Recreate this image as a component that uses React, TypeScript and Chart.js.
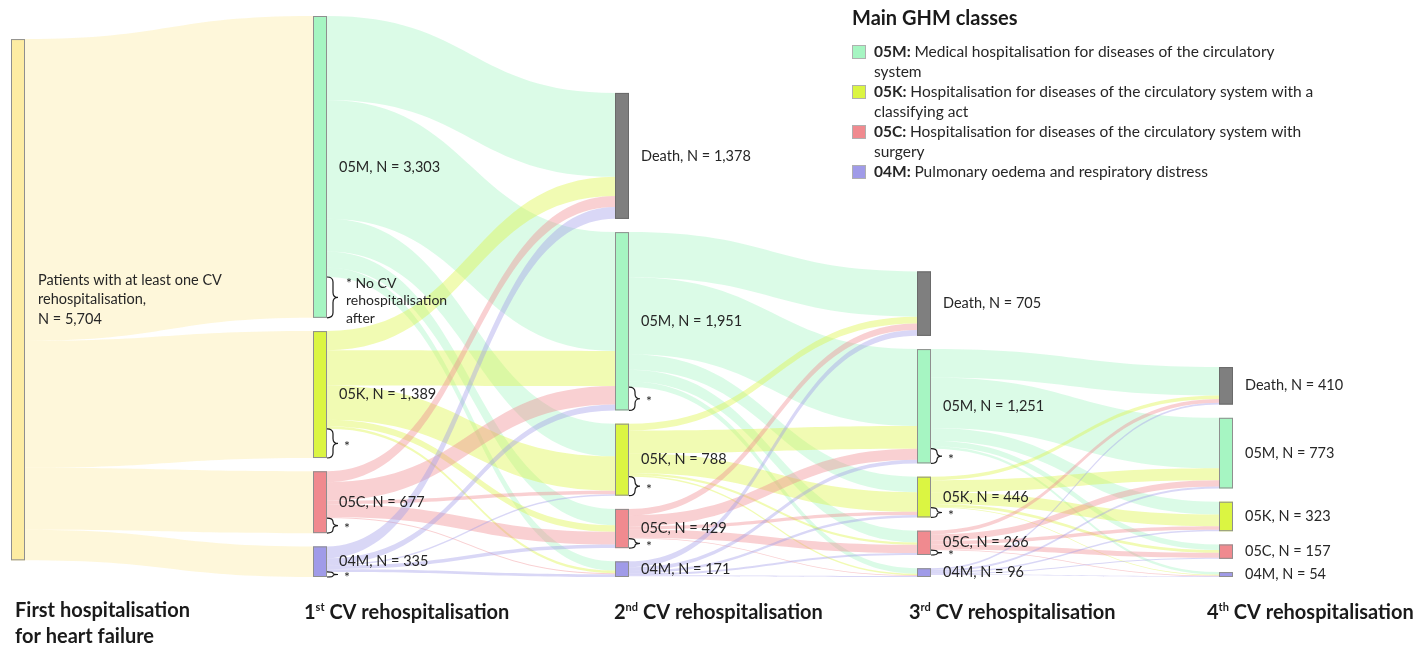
import React, { useEffect, useRef } from 'react';
import { Chart, registerables } from 'chart.js';
Chart.register(...registerables);

// ---------- DATA ----------
const stageCodes = ['05M', '05K', '05C', '04M'];
const col0Values = [5704];
const col1Values = [3303, 1389, 677, 335]; // 05M, 05K, 05C, 04M
const col2Values = [1378, 1951, 788, 429, 171]; // Death, 05M, 05K, 05C, 04M
const col3Values = [705, 1251, 446, 266, 96];
const col4Values = [410, 773, 323, 157, 54];

const col0Keys = ['Start'];
const col1Keys = ['05M', '05K', '05C', '04M'];
const laterKeys = ['Death', '05M', '05K', '05C', '04M'];

// flows[source][target]
const flows0to1 = [[3303, 1389, 677, 335]];
const flows1to2 = [
  [918, 1300, 358, 180, 100],
  [210, 385, 375, 70, 29],
  [120, 200, 40, 140, 12],
  [130, 66, 15, 39, 30],
];
const flows2to3 = [
  [0, 0, 0, 0, 0],
  [495, 841, 170, 130, 60],
  [75, 250, 215, 25, 15],
  [70, 120, 35, 90, 10],
  [65, 40, 26, 21, 11],
];
const flows3to4 = [
  [0, 0, 0, 0, 0],
  [310, 553, 140, 60, 27],
  [40, 130, 128, 30, 10],
  [40, 70, 40, 55, 9],
  [20, 20, 15, 12, 8],
];

const startLabel = ['Patients with at least one CV', 'rehospitalisation,', 'N = 5,704'];
const titleNums = ['1', '2', '3', '4'];
const titleSups = ['st', 'nd', 'rd', 'th'];
const titleRest = ' CV rehospitalisation';
const firstTitle = ['First hospitalisation', 'for heart failure'];
const legendTitle = 'Main GHM classes';
const legendCodes = ['05M:', '05K:', '05C:', '04M:'];
const legendTexts = [
  ['Medical hospitalisation for diseases of the circulatory', 'system'],
  ['Hospitalisation for diseases of the circulatory system with a', 'classifying act'],
  ['Hospitalisation for diseases of the circulatory system with', 'surgery'],
  ['Pulmonary oedema and respiratory distress'],
];
const noRehospNote = ['* No CV', 'rehospitalisation', 'after'];

// ---------- STYLE ----------
const COLORS: Record<string, [number, number, number]> = {
  Start: [253, 236, 163],
  '05M': [166, 245, 194],
  '05K': [219, 245, 66],
  '05C': [240, 138, 143],
  '04M': [160, 155, 232],
  Death: [127, 127, 127],
};
const FONT = 'Lato, "Open Sans", sans-serif';
const GAP = 145;
const NODE_W = 14;

const columns = [col0Values, col1Values, col2Values, col3Values, col4Values];
const columnKeys = [col0Keys, col1Keys, laterKeys, laterKeys, laterKeys];
const flowSteps = [flows0to1, flows1to2, flows2to3, flows3to4];
const YMAX = col1Values.reduce((a, b) => a + b, 0) + GAP * (col1Values.length - 1);

const rgba = (c: [number, number, number], a: number) => `rgba(${c[0]},${c[1]},${c[2]},${a})`;
const fmt = (n: number) => n.toLocaleString('en-US');

function layoutNodes() {
  return columns.map((vals, ci) => {
    const total = vals.reduce((a, b) => a + b, 0) + GAP * (vals.length - 1);
    const bottom = ci === 0 ? (YMAX - total) / 2 - 35 : 0;
    let top = bottom + total;
    return vals.map((v) => {
      const n = { top, bottom: top - v, value: v };
      top -= v + GAP;
      return n;
    });
  });
}

const sankeyPlugin = {
  id: 'sankeyDraw',
  afterDraw(chart: any) {
    const ctx: CanvasRenderingContext2D = chart.ctx;
    const xs = chart.scales.x;
    const ys = chart.scales.y;
    const nodes = layoutNodes();
    const X = (ci: number) => xs.getPixelForValue(ci);
    const Y = (v: number) => ys.getPixelForValue(v);
    ctx.save();

    // flows
    const remainders: number[][] = columns.map((vals) => vals.map(() => 0));
    flowSteps.forEach((mat, s) => {
      const src = nodes[s];
      const tgt = nodes[s + 1];
      const inOff = tgt.map((n) => n.top);
      const x0 = X(s) + NODE_W;
      const x1 = X(s + 1);
      const xm = (x0 + x1) / 2;
      mat.forEach((row, i) => {
        let outOff = src[i].top;
        row.forEach((v, j) => {
          if (v <= 0) return;
          const sy0 = Y(outOff), sy1 = Y(outOff - v);
          const ty0 = Y(inOff[j]), ty1 = Y(inOff[j] - v);
          outOff -= v;
          inOff[j] -= v;
          ctx.beginPath();
          ctx.moveTo(x0, sy0);
          ctx.bezierCurveTo(xm, sy0, xm, ty0, x1, ty0);
          ctx.lineTo(x1, ty1);
          ctx.bezierCurveTo(xm, ty1, xm, sy1, x0, sy1);
          ctx.closePath();
          const key = columnKeys[s][i];
          ctx.fillStyle = key === 'Start' ? 'rgba(253,236,163,0.4)' : rgba(COLORS[key], 0.4);
          ctx.fill();
        });
        remainders[s][i] = outOff - src[i].bottom;
      });
    });

    // nodes
    nodes.forEach((col, ci) => {
      col.forEach((n, k) => {
        const key = columnKeys[ci][k];
        const x = X(ci);
        const y0 = Y(n.top), y1 = Y(n.bottom);
        ctx.fillStyle = rgba(COLORS[key], 1);
        ctx.fillRect(x, y0, NODE_W, y1 - y0);
        ctx.strokeStyle = key === 'Death' ? '#6a6a6a' : '#8f8f8f';
        ctx.lineWidth = 1;
        ctx.strokeRect(x + 0.5, y0 + 0.5, NODE_W - 1, y1 - y0 - 1);
      });
    });

    // node labels
    ctx.fillStyle = '#262626';
    ctx.textBaseline = 'middle';
    ctx.textAlign = 'left';
    ctx.font = `14.5px ${FONT}`;
    nodes.forEach((col, ci) => {
      col.forEach((n, k) => {
        const key = columnKeys[ci][k];
        const x = X(ci) + NODE_W + 12;
        const yc = (Y(n.top) + Y(n.bottom)) / 2;
        if (ci === 0) {
          const xl = X(ci) + NODE_W + 13;
          startLabel.forEach((t, li) => ctx.fillText(t, xl, yc - 19.5 + li * 19.5));
        } else {
          ctx.fillText(`${key}, N = ${fmt(n.value)}`, x, yc);
        }
      });
    });

    // braces for patients with no further CV rehospitalisation
    ctx.strokeStyle = '#1a1a1a';
    ctx.lineWidth = 1.2;
    for (let ci = 1; ci <= 3; ci++) {
      nodes[ci].forEach((n, k) => {
        const rem = remainders[ci][k];
        if (columnKeys[ci][k] === 'Death' || rem < 40) return;
        const x = X(ci) + NODE_W;
        const yTop = Y(n.bottom + rem);
        const yBot = Y(n.bottom);
        const h = yBot - yTop;
        const mid = (yTop + yBot) / 2;
        const w = 6;
        const r = Math.min(5, h / 4);
        ctx.beginPath();
        ctx.moveTo(x, yTop);
        ctx.quadraticCurveTo(x + w, yTop, x + w, yTop + r);
        ctx.lineTo(x + w, mid - r);
        ctx.quadraticCurveTo(x + w, mid, x + w + 5, mid);
        ctx.quadraticCurveTo(x + w, mid, x + w, mid + r);
        ctx.lineTo(x + w, yBot - r);
        ctx.quadraticCurveTo(x + w, yBot, x, yBot);
        ctx.stroke();
        ctx.fillStyle = '#262626';
        ctx.font = `14px ${FONT}`;
        if (ci === 1 && k === 0) {
          noRehospNote.forEach((t, li) => ctx.fillText(t, x + w + 13, mid - 14 + li * 17.3));
        } else {
          ctx.fillText('*', x + w + 11, mid + 3);
        }
      });
    }

    // bottom titles
    ctx.fillStyle = '#1a1a1a';
    ctx.textBaseline = 'alphabetic';
    const titleDx = [4, -9, -1, -8, -12];
    const base = Y(0);
    ctx.font = `bold 20px ${FONT}`;
    firstTitle.forEach((t, li) => ctx.fillText(t, X(0) + titleDx[0], base + 40 + li * 26));
    titleNums.forEach((num, i) => {
      let x = X(i + 1) + titleDx[i + 1];
      const yb = base + 42;
      ctx.font = `bold 20px ${FONT}`;
      ctx.fillText(num, x, yb);
      x += ctx.measureText(num).width;
      ctx.font = `bold 11px ${FONT}`;
      ctx.fillText(titleSups[i], x, yb - 8);
      x += ctx.measureText(titleSups[i]).width;
      ctx.font = `bold 20px ${FONT}`;
      ctx.fillText(titleRest, x, yb);
    });

    // legend
    const lx = 852;
    ctx.font = `bold 20px ${FONT}`;
    ctx.textBaseline = 'middle';
    ctx.fillText(legendTitle, lx, 19);
    let ly = 52;
    legendCodes.forEach((code, i) => {
      const key = stageCodes[i];
      ctx.fillStyle = rgba(COLORS[key], 1);
      ctx.fillRect(lx, ly - 7, 14, 14);
      ctx.strokeStyle = '#b0b0b0';
      ctx.lineWidth = 1;
      ctx.strokeRect(lx + 0.5, ly - 6.5, 13, 13);
      ctx.fillStyle = '#262626';
      ctx.font = `bold 15.5px ${FONT}`;
      ctx.fillText(code, lx + 22, ly);
      const cw = ctx.measureText(code + ' ').width;
      ctx.font = `15.5px ${FONT}`;
      legendTexts[i].forEach((t, li) => {
        ctx.fillText(t, li === 0 ? lx + 22 + cw : lx + 22, ly + li * 20);
      });
      ly += legendTexts[i].length * 20;
    });

    ctx.restore();
  },
};

export default function App() {
  const ref = useRef<HTMLCanvasElement | null>(null);
  useEffect(() => {
    if (!ref.current) return;
    const chart = new Chart(ref.current, {
      type: 'scatter',
      data: { datasets: [{ data: [] }] },
      options: {
        animation: false,
        responsive: false,
        devicePixelRatio: 1,
        layout: { padding: { left: 11, right: 202, top: 16, bottom: 70 } },
        plugins: { legend: { display: false }, tooltip: { enabled: false }, title: { display: false } },
        scales: {
          x: { type: 'linear', min: 0, max: 4, display: false },
          y: { type: 'linear', min: 0, max: YMAX, display: false },
        },
      },
      plugins: [sankeyPlugin],
    });
    return () => chart.destroy();
  }, []);
  return (
    <div style={{ position: 'fixed', left: 0, top: 0, width: 1421, height: 647, background: '#fff' }}>
      <canvas ref={ref} width={1421} height={647} style={{ display: 'block' }} />
    </div>
  );
}
